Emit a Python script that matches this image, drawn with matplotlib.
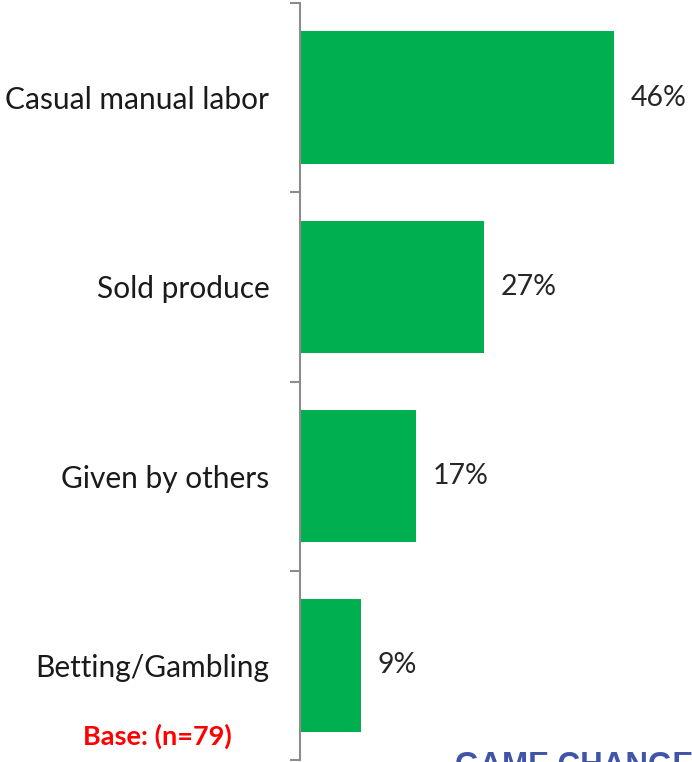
import matplotlib.pyplot as plt

categories = ['Casual manual labor', 'Sold produce', 'Given by others', 'Betting/Gambling']
values = [46, 27, 17, 9]
base_note = 'Base: (n=79)'
footer = 'GAME CHANGE'

green = '#00B050'
axis_gray = '#8C8C8C'

fig = plt.figure(figsize=(6.92, 7.62), dpi=100)
W, H = 692, 762
ax = fig.add_axes([300 / W, 1 - 760 / H, (W - 300) / W, (760 - 3) / H])

ypos = list(range(len(categories)))
ax.barh(ypos, values, height=0.70, color=green, zorder=2)
ax.set_ylim(len(categories) - 0.5, -0.5)
ax.set_xlim(0, 57.4)

for y, v in zip(ypos, values):
    ax.text(v + 2.4, y, f'{v}%', va='center', ha='left', fontsize=20.5,
            family='Lato', color='#262626')

# boundary ticks (major) and label positions (minor)
ax.set_yticks([i - 0.5 for i in range(len(categories) + 1)])
ax.set_yticklabels([])
ax.set_yticks(ypos, minor=True)
ax.set_yticklabels(categories, minor=True, fontsize=21.5, family='Lato', color='#1a1a1a')
ax.tick_params(axis='y', which='major', length=7, width=1.5, color=axis_gray, direction='out')
ax.tick_params(axis='y', which='minor', length=0, pad=22)
ax.set_xticks([])

for s in ['top', 'right', 'bottom']:
    ax.spines[s].set_visible(False)
ax.spines['left'].set_color(axis_gray)
ax.spines['left'].set_linewidth(1.5)

fig.text(157 / W, 1 - 736 / H, base_note, ha='center', va='center', fontsize=19.5,
         fontweight='bold', family='Lato', color='#FF0000')
fig.text(455 / W, 1 - 751 / H, footer, ha='left', va='top', fontsize=22.5,
         fontweight='bold', family='Liberation Sans', color='#4055A8')

fig.savefig('out.png', dpi=100)
